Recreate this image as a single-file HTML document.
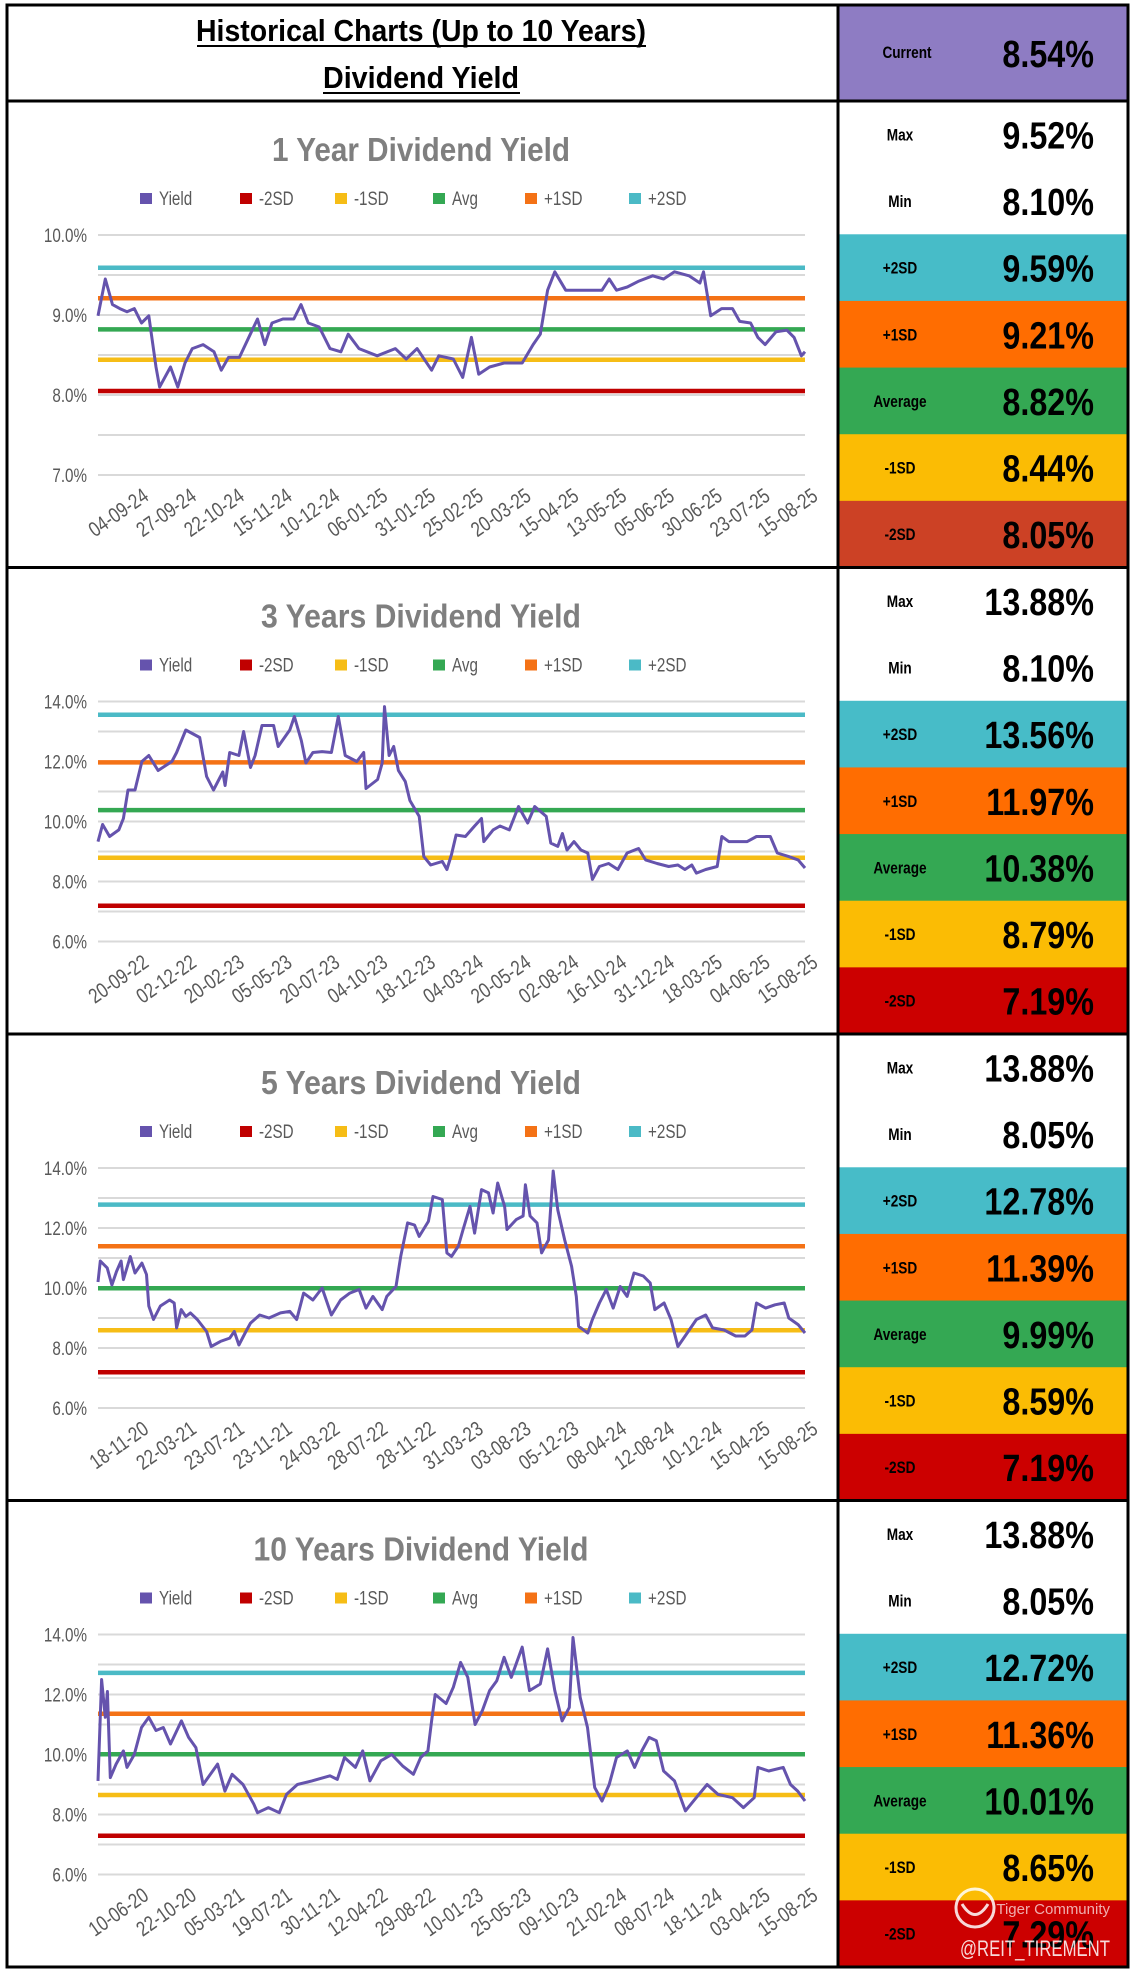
<!DOCTYPE html>
<html><head><meta charset="utf-8"><style>
html,body{margin:0;padding:0;background:#fff;}
svg{display:block;font-family:"Liberation Sans",sans-serif;}
</style></head><body>
<svg id="root" width="1132" height="1977" viewBox="0 0 1132 1977" xmlns="http://www.w3.org/2000/svg">
<rect x="0" y="0" width="1132" height="1977" fill="#fff"/>
<g id="header">
  <text x="421" y="41" text-anchor="middle" font-size="31" font-weight="bold" textLength="450" lengthAdjust="spacingAndGlyphs" fill="#000">Historical Charts (Up to 10 Years)</text>
  <line x1="197" y1="46" x2="646" y2="46" stroke="#000" stroke-width="2"/>
  <text x="421" y="88" text-anchor="middle" font-size="31" font-weight="bold" textLength="196" lengthAdjust="spacingAndGlyphs" fill="#000">Dividend Yield</text>
  <line x1="323" y1="93" x2="520" y2="93" stroke="#000" stroke-width="2"/>
  <rect x="838" y="5" width="290" height="96" fill="#8e7cc3"/>
  <text class="narrow" x="907" y="58" text-anchor="middle" font-size="17" font-weight="bold" fill="#000">Current</text>
  <text class="narrowv" x="1094" y="67" text-anchor="end" font-size="38" font-weight="bold" fill="#000">8.54%</text>
</g>
<g id="sections"></g>
<g id="frame"></g>
<g id="watermark" opacity="0.85">
  <circle cx="975" cy="1908" r="19" fill="none" stroke="#fff" stroke-width="3"/>
  <path d="M962 1904 Q975 1925 988 1904" fill="none" stroke="#fff" stroke-width="3"/>
  <text x="1110" y="1914" text-anchor="end" font-size="15" fill="#fff" fill-opacity="0.8">Tiger Community</text>
  <text x="1110" y="1956" text-anchor="end" font-size="22" fill="#fff" textLength="150" lengthAdjust="spacingAndGlyphs">@REIT_TIREMENT</text>
</g>
</svg>
<script>
// ---- data ----
const t1=[135,145,155,165,175,185,195,205,215,220,235,245,255,265,280,295,305,315,330,345,355,365,375,390,405,415,425,440,455,470,480,495,520,545,560,575,595,605,625,638,650,660,675,695,720,735,745,755,765,780,800,830,840,850,865,880,900,915,930,950,965,970,980,995,1010,1020,1035,1045,1055,1070,1085,1095,1105,1110];
const v1=[8.99,9.45,9.13,9.08,9.04,9.08,8.9,8.99,8.35,8.1,8.35,8.1,8.4,8.58,8.63,8.54,8.31,8.47,8.47,8.76,8.95,8.63,8.9,8.95,8.95,9.13,8.9,8.85,8.58,8.54,8.76,8.58,8.49,8.58,8.45,8.58,8.31,8.49,8.45,8.22,8.72,8.26,8.35,8.4,8.4,8.63,8.76,9.31,9.54,9.31,9.31,9.31,9.45,9.31,9.35,9.42,9.49,9.45,9.54,9.49,9.4,9.54,8.99,9.08,9.08,8.92,8.9,8.72,8.63,8.79,8.81,8.72,8.49,8.54];
const t3=[15,25,40,60,70,80,95,110,125,145,175,185,205,235,250,265,285,290,300,320,330,345,355,370,395,405,430,440,455,465,480,500,520,535,550,575,590,595,620,630,635,645,655,665,680,690,710,720,735,760,770,780,790,810,830,845,850,870,885,905,925,945,960,985,995,1010,1020,1030,1045,1060,1075,1085,1100,1120,1140,1160,1185,1200,1225,1250,1270,1285,1300,1310,1330,1355,1365,1380,1420,1440,1470,1485,1510,1530,1545];
const v3=[9.33,9.9,9.5,9.72,10.1,11.05,11.05,12.0,12.2,11.7,12.0,12.3,13.05,12.8,11.5,11.05,11.65,11.2,12.3,12.2,13.0,11.8,12.2,13.2,13.2,12.5,13.05,13.5,12.7,11.95,12.3,12.33,12.3,13.5,12.2,12.0,12.3,11.1,11.4,11.95,13.83,12.2,12.5,11.7,11.33,10.7,10.17,8.83,8.55,8.67,8.4,8.9,9.55,9.5,9.85,10.1,9.33,9.72,9.85,9.72,10.5,9.95,10.5,10.17,9.28,9.17,9.6,9.05,9.33,9.05,8.95,8.07,8.5,8.6,8.4,8.95,9.1,8.72,8.6,8.5,8.55,8.4,8.55,8.28,8.4,8.5,9.5,9.33,9.33,9.5,9.5,8.95,8.83,8.72,8.45];
const t5=[15,20,35,45,55,65,70,85,95,110,120,125,135,150,170,180,185,195,205,215,230,250,260,280,300,310,320,335,345,365,385,410,430,445,460,480,500,520,540,560,580,595,610,630,640,660,670,685,700,710,730,740,760,770,780,795,805,820,830,845,860,870,880,895,900,920,935,940,950,965,975,990,1000,1010,1025,1040,1050,1055,1075,1085,1100,1115,1130,1145,1160,1175,1195,1210,1220,1240,1255,1270,1290,1310,1330,1345,1370,1395,1415,1430,1440,1460,1480,1500,1510,1530,1545];
const v5=[10.2,10.9,10.67,10.1,10.55,10.9,10.28,11.05,10.5,10.83,10.45,9.4,8.95,9.4,9.6,9.5,8.67,9.28,9.05,9.17,8.95,8.55,8.05,8.22,8.33,8.55,8.1,8.55,8.83,9.1,9.0,9.17,9.22,8.95,9.83,9.6,10.0,9.1,9.6,9.83,9.95,9.33,9.72,9.28,9.72,10.05,11.05,12.17,12.1,11.72,12.22,13.05,12.95,11.17,11.05,11.4,11.95,12.72,11.83,13.28,13.17,12.5,13.5,12.72,11.95,12.28,12.4,13.44,12.4,12.17,11.17,11.6,13.9,12.6,11.6,10.72,9.72,8.72,8.5,8.95,9.5,9.95,9.33,10.05,9.72,10.5,10.4,10.17,9.28,9.5,8.95,8.05,8.5,8.95,9.1,8.67,8.6,8.4,8.4,8.6,9.5,9.33,9.44,9.5,9.0,8.78,8.5];
const t10=[135,140,145,148,152,160,170,175,185,195,205,215,225,235,250,260,270,280,300,310,320,335,350,355,370,385,395,410,430,455,465,475,490,500,510,525,540,555,570,580,590,595,600,615,625,635,645,655,665,675,685,695,705,720,730,745,755,765,775,785,790,800,810,820,830,840,850,865,875,885,895,905,915,930,945,960,975,990,1010,1025,1040,1045,1060,1080,1090,1100,1110];
const v10=[9.12,12.5,11.24,12.1,9.23,9.68,10.12,9.57,10.0,10.9,11.24,10.8,10.9,10.35,11.12,10.57,10.23,9.0,9.68,8.78,9.34,9.0,8.34,8.06,8.23,8.06,8.67,9.0,9.12,9.29,9.17,9.9,9.57,10.12,9.12,9.79,10.0,9.62,9.34,9.9,10.12,11.12,12.0,11.7,12.24,13.07,12.57,11.0,11.46,12.13,12.46,13.24,12.57,13.58,12.13,12.35,13.52,12.13,11.12,11.57,13.9,11.9,10.9,8.9,8.45,9.0,9.9,10.12,9.57,10.12,10.57,10.46,9.45,9.12,8.12,8.56,9.0,8.67,8.56,8.23,8.56,9.57,9.45,9.57,9.0,8.78,8.45];
const labels1=["04-09-24","27-09-24","22-10-24","15-11-24","10-12-24","06-01-25","31-01-25","25-02-25","20-03-25","15-04-25","13-05-25","05-06-25","30-06-25","23-07-25","15-08-25"];
const labels3=["20-09-22","02-12-22","20-02-23","05-05-23","20-07-23","04-10-23","18-12-23","04-03-24","20-05-24","02-08-24","16-10-24","31-12-24","18-03-25","04-06-25","15-08-25"];
const labels5=["18-11-20","22-03-21","23-07-21","23-11-21","24-03-22","28-07-22","28-11-22","31-03-23","03-08-23","05-12-23","08-04-24","12-08-24","10-12-24","15-04-25","15-08-25"];
const labels10=["10-06-20","22-10-20","05-03-21","19-07-21","30-11-21","12-04-22","29-08-22","10-01-23","25-05-23","09-10-23","21-02-24","08-07-24","18-11-24","03-04-25","15-08-25"];
// stats: max, min, +2SD, +1SD, avg, -1SD, -2SD
const stats1=[9.52,8.10,9.59,9.21,8.82,8.44,8.05];
const stats3=[13.88,8.10,13.56,11.97,10.38,8.79,7.19];
const stats5=[13.88,8.05,12.78,11.39,9.99,8.59,7.19];
const stats10=[13.88,8.05,12.72,11.36,10.01,8.65,7.29];

const NS="http://www.w3.org/2000/svg";
function mk(tag,attrs,parent){const e=document.createElementNS(NS,tag);for(const k in attrs)e.setAttribute(k,attrs[k]);if(parent)parent.appendChild(e);return e;}
const lineColors={"-2SD":"#c00000","-1SD":"#f6bd16","Avg":"#34a853","+1SD":"#f47216","+2SD":"#4bbac6"};
const legendItems=[["Yield","#6553ad",147],["-2SD","#c00000",247],["-1SD","#f6bd16",342],["Avg","#34a853",440],["+1SD","#f47216",532],["+2SD","#4bbac6",636]];
const cellColors=[["#fff","#fff","#47bcc8","#ff6d01","#34a853","#fbbc04","#cc4125"],["#fff","#fff","#47bcc8","#ff6d01","#34a853","#fbbc04","#cc0000"]];
const cellLabels=["Max","Min","+2SD","+1SD","Average","-1SD","-2SD"];
const secH=466.5, X0=98, X1=805;

function drawSection(idx,top,title,titleW,t,v,ymin,ymax,gridStep,labStep,stats,labels){
  const sec=document.getElementById('sections');
  const g=mk('g',{},sec);
  
  
  const yTop=top+134, yBot=top+374;
  const ys=val=>yBot-(val-ymin)/(ymax-ymin)*(yBot-yTop);
  const tmin=t[0], tmax=t[t.length-1];
  const xs=tv=>X0+(tv-tmin)/(tmax-tmin)*(X1-X0);
  const tt=mk('text',{x:421,y:top+60,'text-anchor':'middle','font-size':33,'font-weight':'bold',fill:'#7f7f7f',textLength:titleW,lengthAdjust:'spacingAndGlyphs'},g);
  tt.textContent=title;
  
  
  legendItems.forEach(([nm,col,x])=>{
    const lg=mk('g',{},g);
    
    
    mk('rect',{x:x-7,y:top+92,width:12,height:11,fill:col},lg);
    const tx=mk('text',{x:x+12,y:top+104,'font-size':19,fill:'#595959','class':'narrow'},lg);
    tx.textContent=nm;
  });
  for(let val=ymin;val<=ymax+1e-9;val+=gridStep){
    const gl=mk('line',{x1:X0,x2:X1,y1:ys(val),y2:ys(val),stroke:'#d9d9d9','stroke-width':2},g);
    
    
  }
  for(let val=ymin;val<=ymax+1e-9;val+=labStep){
    const lt=mk('text',{x:87,y:ys(val)+7,'text-anchor':'end','font-size':19,fill:'#595959','class':'narrow'},g);
    lt.textContent=val.toFixed(1)+'%';
    
    
  }
  const sdNames=["+2SD","+1SD","Avg","-1SD","-2SD"];
  const sdVals=stats.slice(2);
  for(let i=4;i>=0;i--){
    const sl=mk('line',{x1:X0,x2:X1,y1:ys(sdVals[i]),y2:ys(sdVals[i]),stroke:lineColors[sdNames[i]],'stroke-width':4.5},g);
    
    
  }
  let d='';
  for(let i=0;i<t.length;i++){d+=(i?'L':'M')+xs(t[i]).toFixed(1)+' '+ys(v[i]).toFixed(1);}
  const yl=mk('path',{d:d,fill:'none',stroke:'#6553ad','stroke-width':3,'stroke-linejoin':'round'},g);
  
  
  labels.forEach((lb,i)=>{
    const x=150+i*47.8, y=top+398;
    const xt=mk('text',{x:x,y:y,'text-anchor':'end','font-size':21,fill:'#595959','class':'narrow',transform:'rotate(-35 '+x+' '+y+')'},g);
    xt.textContent=lb;
    
    
  });
  const ch=secH/7;
  const cols=cellColors[idx===0?0:1];
  for(let i=0;i<7;i++){
    const cy=top+i*ch;
    const cg=mk('g',{},g);
    
    
    mk('rect',{x:838,y:cy,width:290,height:ch+0.5,fill:cols[i]},cg);
    const l=mk('text',{x:900,y:cy+ch/2+6,'text-anchor':'middle','font-size':17,'font-weight':'bold',fill:'#000','class':'narrow'},cg);
    l.textContent=cellLabels[i];
    const vv=mk('text',{x:1094,y:cy+ch/2+14,'text-anchor':'end','font-size':38,'font-weight':'bold',fill:'#000','class':'narrowv'},cg);
    vv.textContent=stats[i].toFixed(2)+'%';
  }
}
const tops=[101,567.5,1034,1500.5];
drawSection(0,tops[0],"1 Year Dividend Yield",298,t1,v1,7,10,0.5,1,stats1,labels1);
drawSection(1,tops[1],"3 Years Dividend Yield",320,t3,v3,6,14,1,2,stats3,labels3);
drawSection(2,tops[2],"5 Years Dividend Yield",320,t5,v5,6,14,1,2,stats5,labels5);
drawSection(3,tops[3],"10 Years Dividend Yield",335,t10,v10,6,14,1,2,stats10,labels10);

function squeeze(sel,f){
  document.querySelectorAll(sel).forEach(el=>{
    const w=el.getComputedTextLength();
    el.setAttribute('textLength',(w*f).toFixed(1));
    el.setAttribute('lengthAdjust','spacingAndGlyphs');
  });
}
squeeze('text.narrow',0.8);
squeeze('text.narrowv',0.85);

const fr=document.getElementById('frame');
mk('rect',{x:7,y:5,width:1121,height:1962,fill:'none',stroke:'#000','stroke-width':3},fr);
mk('line',{x1:838,y1:5,x2:838,y2:1967,stroke:'#000','stroke-width':3},fr);
[101,567.5,1034,1500.5].forEach(y=>{mk('line',{x1:7,y1:y,x2:1128,y2:y,stroke:'#000','stroke-width':3},fr);});
document.getElementById('root').appendChild(document.getElementById('watermark'));
</script>
</body></html>
